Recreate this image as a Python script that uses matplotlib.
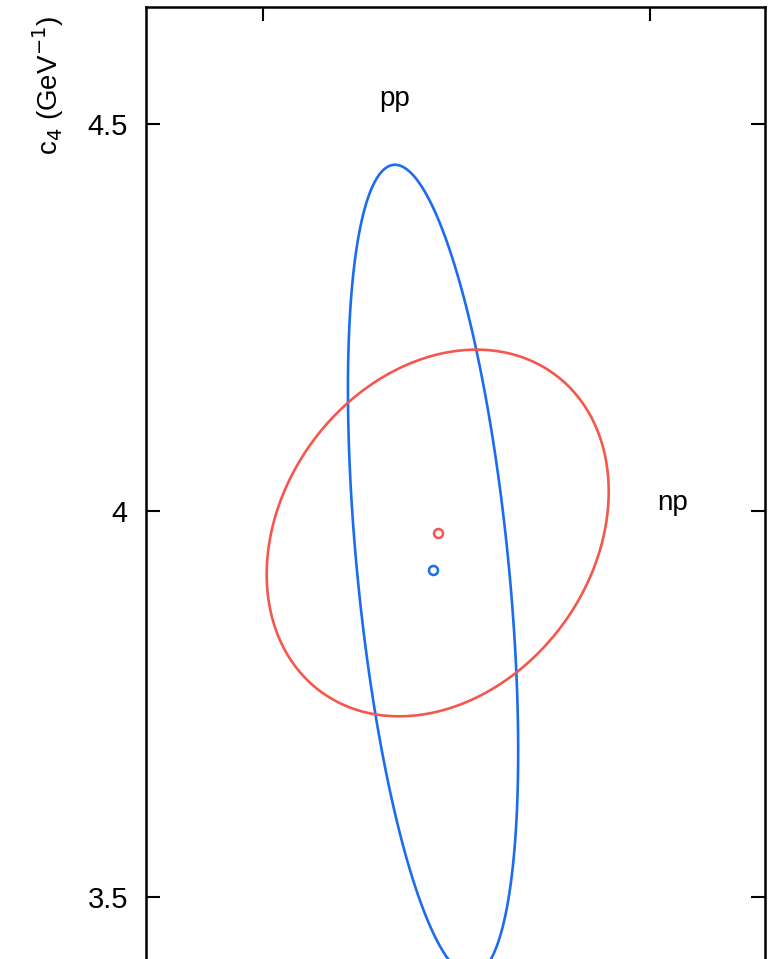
import numpy as np
import matplotlib.pyplot as plt
from matplotlib.patches import Polygon

plt.rcParams['font.family'] = ['Liberation Sans', 'DejaVu Sans']

# fit results: centre, widths and correlation (c3 arbitrary offset, c4 in GeV^-1)
labels = ['pp', 'np']
cx = [-0.780, -0.774]
cy = [3.923, 3.971]
sx = [0.110, 0.221]
sy = [0.524, 0.237]
rho = [-0.447, 0.226]
colors = ['#1c6cf0', '#f5574c']

yticks = [3.5, 4.0, 4.5]
ytick_labels = ['3.5', '4', '4.5']
xticks = [-1.0, -0.5]

fig = plt.figure(figsize=(7.7, 9.59), dpi=100)
# axes runs past the bottom of the figure (cropped like the original)
ax = fig.add_axes([146/770, 1 - 1052/959, (765-146)/770, (1052-7)/959])

t = np.linspace(0, 2*np.pi, 400, endpoint=False)
for i in range(2):
    cov = np.array([[sx[i]**2, rho[i]*sx[i]*sy[i]],
                    [rho[i]*sx[i]*sy[i], sy[i]**2]])
    L = np.linalg.cholesky(cov)
    pts = L @ np.vstack([np.cos(t), np.sin(t)])
    xy = np.column_stack([cx[i] + pts[0], cy[i] + pts[1]])
    ax.add_patch(Polygon(xy, closed=True, fill=False, edgecolor=colors[i], lw=1.9))
    ax.plot(cx[i], cy[i], 'o', mfc='none', mec=colors[i], ms=6.5, mew=1.8)

ax.set_xlim(-1.151, -0.351)
ax.set_ylim(3.3, 4.651)

ax.text(-0.830, 4.532, 'pp', fontsize=20, ha='center', va='center')
ax.text(-0.471, 4.010, 'np', fontsize=20, ha='center', va='center')

ax.set_yticks(yticks)
ax.set_yticklabels(ytick_labels)
ax.set_xticks(xticks)
ax.tick_params(axis='y', direction='in', length=10, width=1.5, labelsize=21,
               right=True, pad=13)
ax.tick_params(axis='x', direction='in', length=10, width=1.5, top=True,
               bottom=False, labelbottom=False)
for s in ax.spines.values():
    s.set_linewidth(1.8)

fig.text(48/770, 1 - 85/959, r'c$_4$ (GeV$^{-1}$)', rotation=90, fontsize=20,
         ha='center', va='center')

fig.savefig('out.png', dpi=100)
